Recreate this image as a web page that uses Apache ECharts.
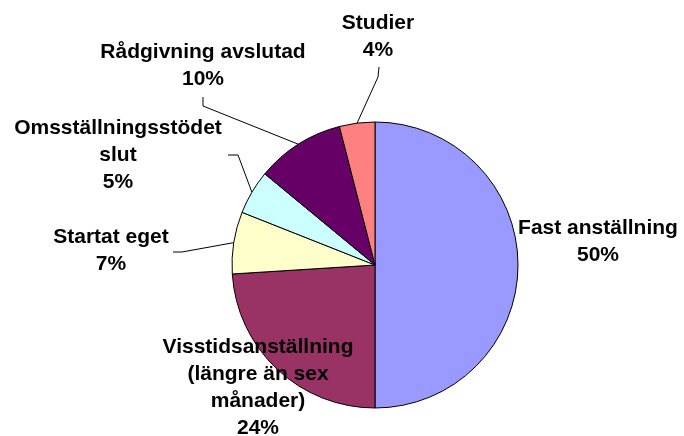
<!DOCTYPE html>
<html>
<head>
<meta charset="utf-8">
<script src="https://cdn.jsdelivr.net/npm/echarts@6/dist/echarts.min.js"></script>
<style>
  html, body { margin: 0; padding: 0; background: #fff; }
  #chart { width: 684px; height: 436px; }
</style>
</head>
<body>
<div id="chart"></div>
<script>
const categories = [
  'Fast anställning',
  'Visstidsanställning\n(längre än sex\nmånader)',
  'Startat eget',
  'Omsställningsstödet\nslut',
  'Rådgivning avslutad',
  'Studier',
]
const shares = [50, 24, 7, 5, 10, 4]
const sliceColors = ['#9999FF', '#993366', '#FFFFCC', '#CCFFFF', '#660066', '#FF8080']

// label centres
const labelSpots = [
  [598, 242],
  [258, 388],
  [111, 251],
  [118, 155],
  [203, 66],
  [378, 37],
]
// where each leader line leaves its label: [elbow, end]; null = no line
const labelTails = [
  null,
  null,
  [[182, 252], [173, 252]],
  [[238, 155], [228, 155]],
  [[203, 106], [203, 97]],
  [[378, 77], [379, 67]],
]

const chart = echarts.init(document.getElementById('chart'))

chart.setOption({
  animation: false,
  series: [{
    type: 'pie',
    center: [375, 265],
    radius: 143,
    startAngle: 90,
    clockwise: true,
    data: categories.map((name, i) => ({
      name,
      value: shares[i],
      itemStyle: { color: sliceColors[i] },
      labelLine: { show: labelTails[i] != null },
    })),
    itemStyle: { borderColor: '#000', borderWidth: 1 },
    label: {
      show: true,
      position: 'outside',
      formatter: '{b}\n{c}%',
      color: '#000',
      fontFamily: 'Arial, "Liberation Sans", sans-serif',
      fontWeight: 'bold',
      fontSize: 21,
      lineHeight: 27,
      align: 'center',
      overflow: 'none',
      width: 300,
    },
    labelLine: {
      lineStyle: { color: '#000', width: 1 },
      length: 10,
      length2: 10,
    },
    labelLayout: (params) => {
      const i = params.dataIndex
      const p = labelSpots[i]
      const out = { x: p[0], y: p[1], align: 'center', verticalAlign: 'middle' }
      const tail = labelTails[i]
      if (tail && params.labelLinePoints) {
        out.labelLinePoints = [params.labelLinePoints[0], tail[0], tail[1]]
      }
      return out
    },
    emphasis: { disabled: true },
  }],
})
</script>
</body>
</html>
